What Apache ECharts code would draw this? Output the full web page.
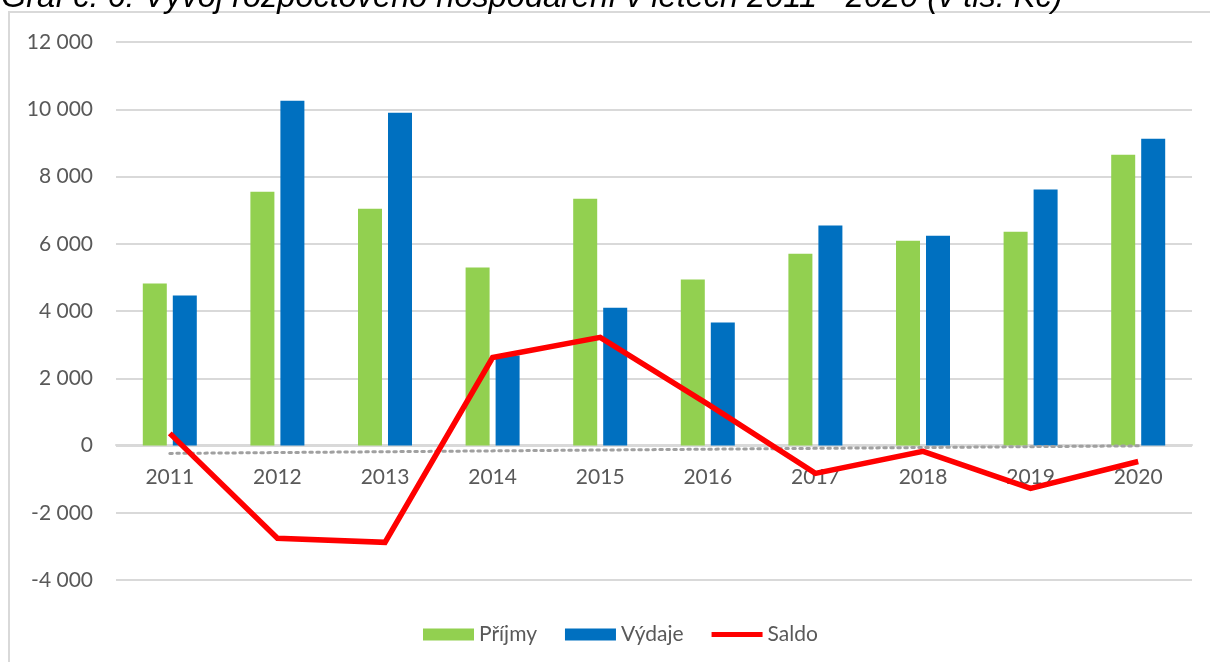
<!DOCTYPE html>
<html>
<head>
<meta charset="utf-8">
<script src="https://cdn.jsdelivr.net/npm/echarts@6/dist/echarts.min.js"></script>
<style>
html,body{margin:0;padding:0;background:#fff;}
#chart{width:1210px;height:662px;}
</style>
</head>
<body>
<div id="chart"></div>
<script>
const titleText = 'Graf č. 6: Vývoj rozpočtového hospodaření v letech 2011 - 2020 (v tis. Kč)';
const categories = ['2011','2012','2013','2014','2015','2016','2017','2018','2019','2020'];
const prijmy = [4820, 7550, 7040, 5290, 7340, 4935, 5705, 6090, 6360, 8650];
const vydaje = [4460, 10250, 9895, 2680, 4100, 3655, 6540, 6240, 7610, 9125];
const saldo  = [360, -2760, -2880, 2615, 3215, 1230, -830, -175, -1275, -475];
const saldoTrend = [-235, null, null, null, null, null, null, null, null, -10];
const seriesNames = ['Příjmy', 'Výdaje', 'Saldo'];
const yMin = -4000, yMax = 12000, yStep = 2000;

const fontFam = 'Lato, "Open Sans", sans-serif';
const chart = echarts.init(document.getElementById('chart'), null, {renderer: 'canvas'});
chart.setOption({
  animation: false,
  backgroundColor: '#fff',
  graphic: [
    {type: 'rect', shape: {x: 9, y: 12, width: 1300, height: 700}, style: {fill: 'none', stroke: '#d9d9d9', lineWidth: 2}, z: 0},
    {type: 'text', left: 1, top: -19, style: {text: titleText, font: 'italic 32.5px "Liberation Sans", Arial, sans-serif', fill: '#000'}, z: 1}
  ],
  grid: {left: 116, right: 18, top: 42, bottom: 82, containLabel: false},
  legend: {
    data: [
      {name: seriesNames[0], icon: 'rect'},
      {name: seriesNames[1], icon: 'rect'},
      {name: seriesNames[2], icon: 'path://M0,0L51,0L51,5L0,5Z'}
    ],
    left: 418, top: 619,
    itemWidth: 51, itemHeight: 12, itemGap: 28,
    textStyle: {color: '#595959', fontSize: 21, fontFamily: fontFam}
  },
  xAxis: {
    type: 'category',
    data: categories,
    offset: -135,
    axisLine: {onZero: false, lineStyle: {color: '#d9d9d9', width: 2}},
    axisTick: {show: false},
    axisLabel: {color: '#595959', fontSize: 21, fontFamily: fontFam, margin: 22}
  },
  yAxis: {
    type: 'value',
    min: yMin, max: yMax, interval: yStep,
    axisLine: {show: false},
    axisTick: {show: false},
    splitLine: {lineStyle: {color: '#d9d9d9', width: 2}},
    axisLabel: {
      color: '#595959', fontSize: 21, fontFamily: fontFam, margin: 23,
      formatter: function (v) {
        const s = Math.abs(v).toString().replace(/\B(?=(\d{3})+(?!\d))/g, ' ');
        return (v < 0 ? '-' : '') + s;
      }
    }
  },
  series: [
    {name: seriesNames[0], type: 'bar', data: prijmy, barWidth: 24, barGap: '25%', itemStyle: {color: '#92D050'}},
    {name: seriesNames[1], type: 'bar', data: vydaje, barWidth: 24, barGap: '25%', itemStyle: {color: '#0070C0'}},
    {name: 'trend', type: 'line', data: saldoTrend, connectNulls: true, symbol: 'none', silent: true,
     lineStyle: {color: '#a0a0a0', width: 3, type: [2.5, 4.5], cap: 'round'}, z: 3},
    {name: seriesNames[2], type: 'line', data: saldo, symbol: 'none',
     lineStyle: {color: '#FF0000', width: 5.5, join: 'miter'}, itemStyle: {color: '#FF0000'}, z: 4}
  ]
});
</script>
</body>
</html>
